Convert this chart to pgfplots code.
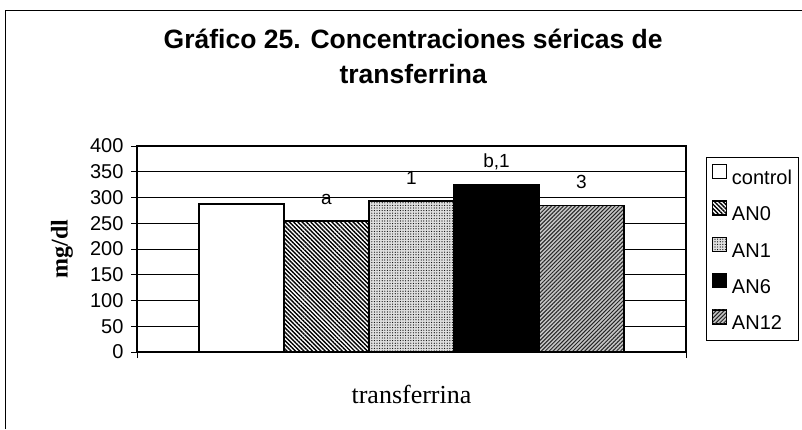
\documentclass[border=0pt]{standalone}
\usepackage{fontspec}
\setmainfont{Liberation Sans}
\newfontfamily\serifrm{Liberation Serif}
\usepackage{pgfplots}
\pgfplotsset{compat=1.18}
\usetikzlibrary{patterns.meta}

\pgfplotsset{
  sqlegend/.style={legend image code/.code={\draw[##1, line width=0.8pt] (0pt,-0.6pt) rectangle (14pt,13.4pt);}},
  barA/.style={fill=white, draw=black, line width=1.5pt, sqlegend},
  barB/.style={preaction={fill=white}, pattern={Lines[angle=-45,distance=3pt,line width=1.4pt]}, pattern color=black, draw=black, line width=1.5pt, sqlegend},
  barC/.style={preaction={fill=gray!25}, pattern={Dots[distance=2.6pt,radius=0.6pt]}, pattern color=black, draw=black, line width=1.5pt, sqlegend},
  barD/.style={fill=black, draw=black, line width=1.5pt, sqlegend},
  barE/.style={preaction={fill=gray!45}, pattern={Lines[angle=45,distance=2.8pt,line width=1pt]}, pattern color=black!85, draw=black, line width=1.5pt, sqlegend},
}

\begin{document}
\begin{tikzpicture}
\path[use as bounding box] (0,0) rectangle (802pt,429pt);
\draw[line width=0.9pt] (5pt,0pt) -- (5pt,419pt) -- (802pt,419pt);
\begin{axis}[
  at={(137pt,77pt)}, anchor=south west,
  scale only axis, width=549pt, height=206pt,
  ybar, bar width=85pt,
  xmin=0, xmax=1, ymin=0, ymax=400,
  xtick={0,1}, xticklabels={},
  ytick={0,50,...,400},
  tick pos=left, tick align=outside, major tick length=6pt,
  ymajorgrids, grid style={black, line width=0.8pt},
  axis line style={line width=1.6pt},
  every tick/.style={black, line width=0.8pt},
  /pgf/number format/assume math mode=true,
  yticklabel style={font=\fontsize{20}{20}\selectfont, xshift=-4pt},
  ylabel={mg/dl},
  ylabel style={at={(axis description cs:-0.1366,0.5)}, anchor=center, font=\serifrm\bfseries\fontsize{24}{24}\selectfont},
  xlabel={transferrina},
  xlabel style={at={(axis description cs:0.5,-0.204)}, anchor=center, font=\serifrm\fontsize{26}{26}\selectfont},
  title={Gráfico 25. Concentraciones séricas de\\transferrina},
  title style={at={(axis description cs:0.503,1.405)}, anchor=center, align=center, font=\bfseries\fontsize{26.5}{35}\selectfont},
  legend style={at={(1.036,0.947)}, anchor=north west, draw=black, line width=0.8pt,
    font=\fontsize{20}{20}\selectfont, inner xsep=6pt, inner ysep=7pt, row sep=12pt,
    nodes={inner sep=0pt, text height=17pt, text depth=4pt},
    /tikz/every odd column/.append style={column sep=5pt}},
  legend cell align=left,
  nodes near coords style={font=\fontsize{19}{19}\selectfont, inner sep=0pt, text depth=0pt, yshift=16pt},
]
\addplot[barA, bar shift=-170pt] coordinates {(0.5,287)};
\addplot[barB, bar shift=-85pt, nodes near coords={a}] coordinates {(0.5,254)};
\addplot[barC, bar shift=0pt, nodes near coords={1}] coordinates {(0.5,293)};
\addplot[barD, bar shift=85pt, nodes near coords={b,1}] coordinates {(0.5,325)};
\addplot[barE, bar shift=170pt, nodes near coords={3}] coordinates {(0.5,284)};
\legend{control, AN0, AN1, AN6, AN12}
\end{axis}
\end{tikzpicture}
\end{document}
